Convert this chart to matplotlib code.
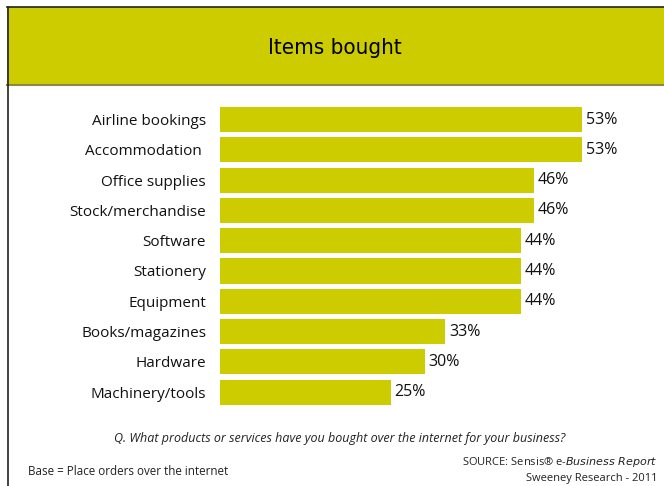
import matplotlib.pyplot as plt
from matplotlib.patches import Rectangle
from matplotlib.lines import Line2D

# data
items = ["Airline bookings", "Accommodation ", "Office supplies", "Stock/merchandise",
         "Software", "Stationery", "Equipment", "Books/magazines", "Hardware",
         "Machinery/tools"]
pct = [53, 53, 46, 46, 44, 44, 44, 33, 30, 25]

W, H = 664, 486
olive = '#cccc00'
font = 'Open Sans'

fig = plt.figure(figsize=(W / 100, H / 100), dpi=100)

# header band and frame
fig.patches.append(Rectangle((7 / W, 1 - 85 / H), 1 - 7 / W, 78 / H,
                             transform=fig.transFigure, facecolor=olive,
                             edgecolor='none'))
fig.lines.append(Line2D([7 / W, 1], [1 - 85 / H, 1 - 85 / H], transform=fig.transFigure,
                        color='#8a8a40', lw=1.5))
fig.lines.append(Line2D([7 / W, 1], [1 - 7.5 / H, 1 - 7.5 / H], transform=fig.transFigure,
                        color='#222222', lw=1.2))
fig.lines.append(Line2D([7.5 / W, 7.5 / W], [0, 1 - 7 / H], transform=fig.transFigure,
                        color='#222222', lw=1.2))
fig.text(335 / W, 1 - 48 / H, "Items bought", ha='center', va='center',
         fontsize=16, family=['DejaVu Sans'], stretch='condensed')

# bars axes: x from 220px, 6.83 px per percent; rows 30.3 px apart
x0, ppu, xmax = 220, 6.83, 60
pitch, top = 30.3, 119.5 - 15.15
ax = fig.add_axes([x0 / W, 1 - (top + pitch * 10) / H, ppu * xmax / W, pitch * 10 / H])
y = list(range(len(items)))
ax.barh(y, pct, height=0.83, color=olive)
ax.set_xlim(0, xmax)
ax.set_ylim(len(items) - 0.5, -0.5)
ax.set_yticks(y)
ax.set_yticklabels(items, fontsize=11, family=font, color='#111111')
ax.tick_params(axis='y', length=0, pad=10)
ax.set_xticks([])
for s in ax.spines.values():
    s.set_visible(False)
for i, v in enumerate(pct):
    ax.text(v + 0.55, i, f"{v}%", va='center', ha='left', fontsize=11.5,
            family=font, color='#111111')

# footer texts
fig.text(340 / W, 1 - 438 / H,
         "Q. What products or services have you bought over the internet for your business?",
         ha='center', va='center', fontsize=9, style='italic', family=font, color='#222222')
fig.text(28 / W, 1 - 471 / H, "Base = Place orders over the internet", ha='left',
         va='center', fontsize=8.4, family=font, color='#222222')
fig.text(658 / W, 1 - 462 / H, "SOURCE: Sensis® e-$\\it{Business\\ Report}$", ha='right',
         va='center', fontsize=8, family=font, color='#222222')
fig.text(658 / W, 1 - 478 / H, "Sweeney Research - 2011", ha='right',
         va='center', fontsize=8, family=font, color='#222222')

fig.savefig('out.png', dpi=100)
